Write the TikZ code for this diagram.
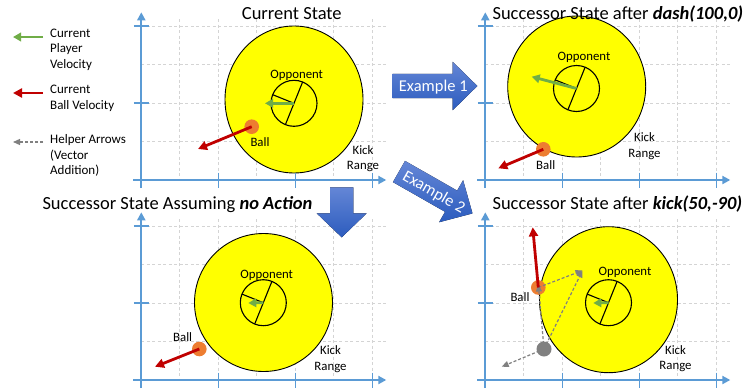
\documentclass[tikz,border=0pt]{standalone}
\usepackage{fontspec}
\setmainfont{Carlito}
\usetikzlibrary{arrows.meta,calc}
\definecolor{axisblue}{RGB}{91,155,213}
\definecolor{gridgray}{RGB}{212,212,212}
\definecolor{kickyellow}{RGB}{255,255,0}
\definecolor{ballorange}{RGB}{237,125,49}
\definecolor{velred}{RGB}{192,0,0}
\definecolor{velgreen}{RGB}{112,173,71}
\definecolor{helpergray}{RGB}{128,128,128}
\definecolor{arrowtop}{RGB}{100,134,214}
\definecolor{arrowbot}{RGB}{44,92,190}
\newcommand\mypanel[2]{%
  \foreach \k in {1,...,6} \draw[gridline] ({#1+38.5*\k},{#2-161}) -- ({#1+38.5*\k},{#2});
  \foreach \k in {1,...,4} \draw[gridline] ({#1},{#2-38.5*\k}) -- ({#1+246},{#2-38.5*\k});
}
\newcommand\myaxes[2]{%
  \draw[axisline] ({#1},{#2+8}) -- ({#1},{#2-167.7});
  \draw[axisline] ({#1-8},{#2}) -- ({#1+245},{#2});
  \foreach \k in {1,2,3} \draw[tickline] ({#1+77*\k},{#2-7.5}) -- ({#1+77*\k},{#2+7.5});
  \foreach \k in {1,2} \draw[tickline] ({#1-7.5},{#2-77*\k}) -- ({#1+7.5},{#2-77*\k});
}
\newcommand\myblock[2]{%
  \fill[blockarrow] ({#1},{#2-12.2}) -- ({#1+60},{#2-12.2}) -- ({#1+60},{#2-24.2}) -- ({#1+84.6},{#2})
    -- ({#1+60},{#2+24.2}) -- ({#1+60},{#2+12.2}) -- ({#1},{#2+12.2}) -- cycle;
}
\begin{document}
\begin{tikzpicture}[x=1pt,y=-1pt,
  axisline/.style={draw=axisblue, line width=2pt, -{Triangle[length=8pt,width=8pt]}},
  tickline/.style={draw=axisblue, line width=1.5pt},
  gridline/.style={draw=gridgray, line width=0.9pt, dash pattern=on 3pt off 2.5pt},
  kickzone/.style={draw=black, line width=0.9pt, fill=kickyellow},
  bodynode/.style={circle, draw=black, line width=1.1pt, fill=kickyellow, minimum size=46pt, inner sep=0pt, outer sep=0pt},
  bodyline/.style={draw=black, line width=1.1pt},
  ballnode/.style={circle, fill=ballorange, minimum size=14.6pt, inner sep=0pt, outer sep=0pt},
  grayball/.style={circle, fill=helpergray, minimum size=15pt, inner sep=0pt, outer sep=0pt},
  ballvel/.style={draw=velred, line width=2.8pt, -{Triangle[length=9pt,width=9pt]}},
  playervel/.style={draw=velgreen, line width=2.8pt, -{Triangle[length=8pt,width=8.5pt]}},
  helper/.style={draw=helpergray, line width=1.2pt, dash pattern=on 3pt off 2pt, -{Triangle[length=7pt,width=6pt]}},
  blockarrow/.style={top color=arrowtop, bottom color=arrowbot},
  titletxt/.style={font=\fontsize{18.5}{22}\selectfont, anchor=base west, inner sep=0pt},
  lbl/.style={font=\fontsize{12.8}{15}\selectfont, inner sep=0pt, anchor=base},
  rangetxt/.style={font=\fontsize{12.8}{15.7}\selectfont, inner sep=0pt, anchor=north, align=center},
  legendtxt/.style={font=\fontsize{13}{15.8}\selectfont, align=left, anchor=north west, inner sep=0pt},
  exampletxt/.style={font=\fontsize{16.5}{19}\selectfont, text=white, inner sep=0pt, anchor=base}
]
\fill[white] (0,0) rectangle (751,388);
\useasboundingbox (0,0) rectangle (751,388);

% grids
\mypanel{141.3}{180}
\mypanel{485.3}{180}
\mypanel{141.3}{380}
\mypanel{485.3}{380}

% kick ranges
\draw[kickzone] (294,99.5) ellipse [x radius=69pt, y radius=73.5pt];
\draw[kickzone] (576.7,86.5) ellipse [x radius=69pt, y radius=70.5pt];
\draw[kickzone] (263.5,302.5) ellipse [x radius=69pt, y radius=69pt];
\draw[kickzone] (608.5,299.7) ellipse [x radius=69pt, y radius=73pt];

% axes
\myaxes{141.3}{180}
\myaxes{485.3}{180}
\myaxes{141.3}{380}
\myaxes{485.3}{380}

% titles
\node[titletxt] (t1) at (241.7,19.3) {Current State};
\node[titletxt] (t2) at (492.3,19.3) {Successor State after \textbf{\textit{dash(100,0)}}};
\node[titletxt] (t3) at (42.3,209.8) {Successor State Assuming \textbf{\textit{no Action}}};
\node[titletxt] (t4) at (492.3,209.8) {Successor State after \textbf{\textit{kick(50,-90)}}};

% legend
\coordinate (lg1a) at (43,37);   \coordinate (lg1b) at (13,37);
\coordinate (lg2a) at (43,93);   \coordinate (lg2b) at (13,93);
\coordinate (lg3a) at (43,142);  \coordinate (lg3b) at (13,142);
\draw[playervel] (lg1a) -- (lg1b);
\draw[ballvel] (lg2a) -- (lg2b);
\draw[helper] (lg3a) -- (lg3b);
\node[legendtxt] (lt1) at (50,28.5) {Current\\Player\\Velocity};
\node[legendtxt] (lt2) at (50,84.8) {Current\\Ball Velocity};
\node[legendtxt] (lt3) at (50,134) {Helper Arrows\\(Vector\\Addition)};

% ---- panel 1
\node[bodynode] (o1) at (294,103.3) {};
\draw[bodyline] (o1.68) -- (o1.248);
\draw[bodyline] (o1.center) -- (o1.158);
\coordinate (pv1) at (265,103.3);
\draw[playervel] (o1.center) -- (pv1);
\node[ballnode] (b1) at (251.7,126.7) {};
\coordinate (bv1) at (198,149);
\draw[ballvel] (b1.center) -- (bv1);
\node[lbl] (op1) at (296.7,78.3) {Opponent};
\node[lbl] (bl1) at (260,146.7) {Ball};
\node[rangetxt] (kr1) at (363,145) {Kick\\Range};

% ---- panel 2
\node[bodynode] (o2) at (576.5,88.5) {};
\draw[bodyline] (o2.68) -- (o2.248);
\draw[bodyline] (o2.center) -- (o2.158);
\coordinate (pv2) at (531.7,76.7);
\draw[playervel] (o2.center) -- (pv2);
\node[ballnode] (b2) at (543.3,149.3) {};
\coordinate (bv2) at (498.3,168.3);
\draw[ballvel] (b2.center) -- (bv2);
\node[lbl] (op2) at (584,60.7) {Opponent};
\node[lbl] (bl2) at (545.7,169) {Ball};
\node[rangetxt] (kr2) at (644.5,132.5) {Kick\\Range};

% ---- panel 3
\node[bodynode] (o3) at (263.3,302.7) {};
\draw[bodyline] (o3.68) -- (o3.248);
\draw[bodyline] (o3.center) -- (o3.158);
\coordinate (pv3) at (248.3,303);
\draw[playervel] (o3.center) -- (pv3);
\node[ballnode] (b3) at (199.3,349) {};
\coordinate (bv3) at (155,366.7);
\draw[ballvel] (b3.center) -- (bv3);
\node[lbl] (op3) at (266.7,278.3) {Opponent};
\node[lbl] (bl3) at (182.7,341.7) {Ball};
\node[rangetxt] (kr3) at (330.5,345.5) {Kick\\Range};

% ---- panel 4
\node[bodynode] (o4) at (608.5,302.7) {};
\draw[bodyline] (o4.68) -- (o4.248);
\draw[bodyline] (o4.center) -- (o4.158);
\coordinate (pv4) at (593.3,303);
\draw[playervel] (o4.center) -- (pv4);
\node[ballnode] (b4) at (538.3,287.5) {};
\coordinate (g4c) at (544,349);
\coordinate (p4) at (582.5,270.5);
\coordinate (gv4) at (501.7,366.7);
\draw[helper] (g4c) -- (gv4);
\draw[helper] (g4c) -- (p4);
\draw[helper] (b4.center) -- (p4);
\draw[helper] (g4c) -- ([yshift=3pt]b4.center);
\coordinate (bv4) at (532.7,227.3);
\draw[ballvel] (b4.center) -- (bv4);
\node[grayball] (g4) at (g4c) {};
\node[lbl] (op4) at (625,275.3) {Opponent};
\node[lbl] (bl4) at (520,301.7) {Ball};
\node[rangetxt] (kr4) at (675.5,345) {Kick\\Range};

% ---- block arrows
\myblock{392.7}{86}
\node[exampletxt] (ex1) at (433.3,91.7) {Example 1};
\begin{scope}[rotate around={-29.7:(399,171.5)}]
  \myblock{399}{171.5}
  \node[exampletxt, transform shape] (ex2) at (439.6,177.2) {Example 2};
\end{scope}
\fill[blockarrow] (330,187.3) -- (353.3,187.3) -- (353.3,213.3) -- (366.7,213.3) -- (341.7,237.3)
  -- (316.7,213.3) -- (330,213.3) -- cycle;
\end{tikzpicture}
\end{document}
